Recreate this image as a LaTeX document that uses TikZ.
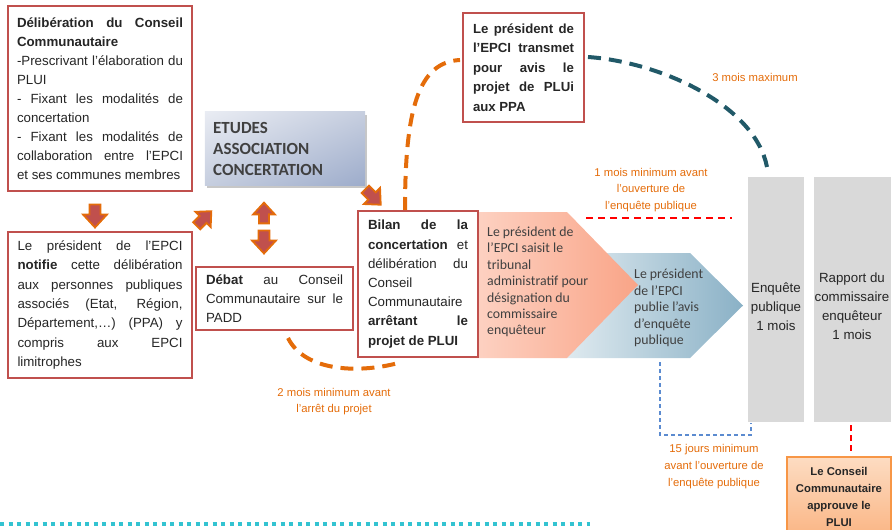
\documentclass[tikz,border=0pt]{standalone}
\usepackage{fontspec}
\setmainfont{Liberation Sans}
\newfontfamily\calibri{Carlito}
\usetikzlibrary{shadows,shadings}
\definecolor{boxred}{HTML}{C0504D}
\definecolor{arrorange}{HTML}{E46C0A}
\definecolor{labelorange}{HTML}{E46C0A}
\definecolor{tealdark}{HTML}{215968}
\definecolor{txtdark}{HTML}{262626}
\definecolor{txtgrey}{HTML}{404040}
\definecolor{greyfill}{HTML}{D9D9D9}
\definecolor{dotcyan}{HTML}{33C3D1}
\definecolor{dashblue}{HTML}{5B8BD0}
\definecolor{pinkL}{HTML}{FDD3C4}
\definecolor{pinkR}{HTML}{F9A487}
\definecolor{blueL}{HTML}{E2ECF1}
\definecolor{blueR}{HTML}{8AB1C6}
\definecolor{etudL}{HTML}{E9ECF3}
\definecolor{etudM}{HTML}{C6CEDF}
\definecolor{etudR}{HTML}{9DACCB}
\definecolor{peachT}{HTML}{FDDCC2}
\definecolor{peachB}{HTML}{FAB584}
\definecolor{peachD}{HTML}{F79646}
\tikzset{
  redbox/.style={draw=boxred, line width=2.2pt, fill=white, align=justify, inner sep=0pt,
    font=\fontsize{13.3}{19}\selectfont, text=txtdark},
  greybox/.style={fill=greyfill, draw=none, minimum width=56pt, minimum height=245pt, inner sep=0pt},
  greytext/.style={align=center, font=\fontsize{13.3}{19}\selectfont, text=txtdark},
  chevtext/.style={align=left, font=\calibri\fontsize{13.8}{16.4}\selectfont, text=txtgrey, inner sep=0pt},
  orangelabel/.style={align=center, font=\fontsize{11.3}{16.8}\selectfont, text=labelorange, inner sep=0pt},
  blockarr/.style={fill=boxred, draw=arrorange, line width=1.8pt, line join=miter},
  barrow/.pic={\path[blockarr] (-11.5,-5.5) -- (-1.5,-5.5) -- (-1.5,-12) -- (11.5,0) -- (-1.5,12) -- (-1.5,5.5) -- (-11.5,5.5) -- cycle;},
  bigdash/.style={line width=4pt, dash pattern=on 13pt off 8pt},
}
\begin{document}
\begin{tikzpicture}[x=1pt,y=-1pt]
\useasboundingbox (0,0) rectangle (892,530);

% boxes on the left
\node[redbox, text width=166pt, minimum width=184pt, minimum height=185pt] (delib) at (100,98.5)
 {\textbf{Délibération du Conseil}\linebreak
  \textbf{Communautaire}\\
  -Prescrivant l’élaboration du\linebreak
  PLUI\\
  - Fixant les modalités de\linebreak
  concertation\\
  - Fixant les modalités de\linebreak
  collaboration entre l’EPCI\linebreak
  et ses communes membres};

\node[redbox, text width=165pt, minimum width=184pt, minimum height=146pt, font=\fontsize{13.3}{19.3}\selectfont] (notif) at (100,305)
 {Le président de l’EPCI\linebreak
  \textbf{notifie} cette délibération\linebreak
  aux personnes publiques\linebreak
  associés (Etat, Région,\linebreak
  Département,…) (PPA) y\linebreak
  compris aux EPCI\linebreak
  limitrophes};

% ETUDES box
\node[fill=etudM, minimum width=160pt, minimum height=73pt,
  drop shadow={shadow xshift=2pt, shadow yshift=-2.5pt, fill=black, opacity=0.22}] (etud) at (285,148.5) {};
\shade[upper left=etudL, upper right=etudM, lower left=etudM, lower right=etudR] (etud.north west) rectangle (etud.south east);
\node[anchor=west, align=left, inner sep=0pt, text=txtgrey, font=\calibri\bfseries\fontsize{17}{21}\selectfont] (etudtxt) at (213,149)
 {ETUDES\\ASSOCIATION\\CONCERTATION};

\node[redbox, text width=137pt, minimum width=157pt, minimum height=63pt] (debat) at (274.5,298.5)
 {\textbf{Débat} au Conseil\linebreak
  Communautaire sur le\linebreak
  PADD};

% chevrons
\shade[left color=blueL, right color=blueR] (560,253) -- (690,253) -- (743,305.5) -- (690,358) -- (560,358) -- cycle;
\shade[left color=pinkL, right color=pinkR] (470,212) -- (567,212) -- (638,285) -- (567,358) -- (470,358) -- cycle;
\node[chevtext, anchor=west] (saisit) at (487,282)
 {Le président de\\l’EPCI saisit le\\tribunal\\administratif pour\\désignation du\\commissaire\\enquêteur};
\node[chevtext, anchor=west] (publie) at (634,308)
 {Le président\\de l’EPCI\\publie l’avis\\d’enquête\\publique};

\node[redbox, text width=100pt, minimum width=120pt, minimum height=146pt, font=\fontsize{13.3}{19.2}\selectfont] (bilan) at (418,284)
 {\textbf{Bilan de la}\linebreak
  \textbf{concertation} et\linebreak
  délibération du\linebreak
  Conseil\\
  Communautaire\\
  \textbf{arrêtant le}\linebreak
  \textbf{projet de PLUI}};

\node[redbox, text width=101pt, minimum width=121pt, minimum height=109pt, font=\bfseries\fontsize{13.2}{19.5}\selectfont] (plui) at (523.5,67.5)
 {Le président de\linebreak
  l’EPCI transmet\linebreak
  pour avis le\linebreak
  projet de PLUi\linebreak
  aux PPA};

% grey columns
\node[greybox] (enq) at (776,299) {};
\node[greytext] (enqtxt) at (776,307) {Enquête\\publique\\1 mois};
\node[greybox, minimum width=77pt] (rap) at (852.5,299) {};
\node[greytext] (raptxt) at (852,306) {Rapport du\\commissaire\\enquêteur\\1 mois};

% final box
\node[draw=peachD, line width=1.5pt, top color=peachT, bottom color=peachB, minimum width=104pt, minimum height=80pt,
  align=center, inner sep=0pt, text=txtdark, font=\bfseries\fontsize{11.3}{17}\selectfont] (appr) at (839,497)
 {Le Conseil\\Communautaire\\approuve le\\PLUI};

% block arrows
\pic[rotate=-90] at (95,216) {barrow};
\pic[rotate=45, scale=0.9] at (204,218.5) {barrow};
\pic[rotate=90, scale=0.9] at (264,213) {barrow};
\pic[rotate=-90] at (264,242) {barrow};
\pic[rotate=-45, scale=0.95] at (373,197) {barrow};

% coordinates for curves
\coordinate (o1a) at (405,210);
\coordinate (o1b) at (460,60);
\coordinate (t1a) at (588,57);
\coordinate (t1b) at (767,167);
\coordinate (o2a) at (288,338);
\coordinate (o2b) at (402,362);
\coordinate (r1a) at (586,218);
\coordinate (r1b) at (732,218);
\coordinate (b1a) at (660,362);
\coordinate (b1b) at (751,423);
\coordinate (r2a) at (851,425);
\coordinate (r2b) at (851,454);
\coordinate (cya) at (0,524);
\coordinate (cyb) at (590,524);

\draw[arrorange, bigdash] (o1a) .. controls (405,110) and (418,62) .. (o1b);
\draw[tealdark, bigdash] (t1a) .. controls (660,62) and (755,105) .. (t1b);
\draw[arrorange, bigdash] (o2a) .. controls (305,372) and (360,374) .. (o2b);
\draw[red, line width=1.8pt, dash pattern=on 7pt off 5pt] (r1a) -- (r1b);
\draw[dashblue, line width=1.2pt, dash pattern=on 4pt off 3pt] (b1a) |- (705,435) -| (b1b);
\draw[red, line width=2.6pt, dash pattern=on 6pt off 4pt] (r2a) -- (r2b);
\draw[dotcyan, line width=4.5pt, dash pattern=on 4pt off 4.5pt] (cya) -- (cyb);

% labels
\node[orangelabel] (l3) at (755,77) {3 mois maximum};
\node[orangelabel] (l1) at (651,190) {1 mois minimum avant\\l’ouverture de\\l’enquête publique};
\node[orangelabel] (l2) at (334,401.5) {2 mois minimum avant\\l’arrêt du projet};
\node[orangelabel] (l15) at (714,466.5) {15 jours minimum\\avant l’ouverture de\\l’enquête publique};
\end{tikzpicture}
\end{document}
